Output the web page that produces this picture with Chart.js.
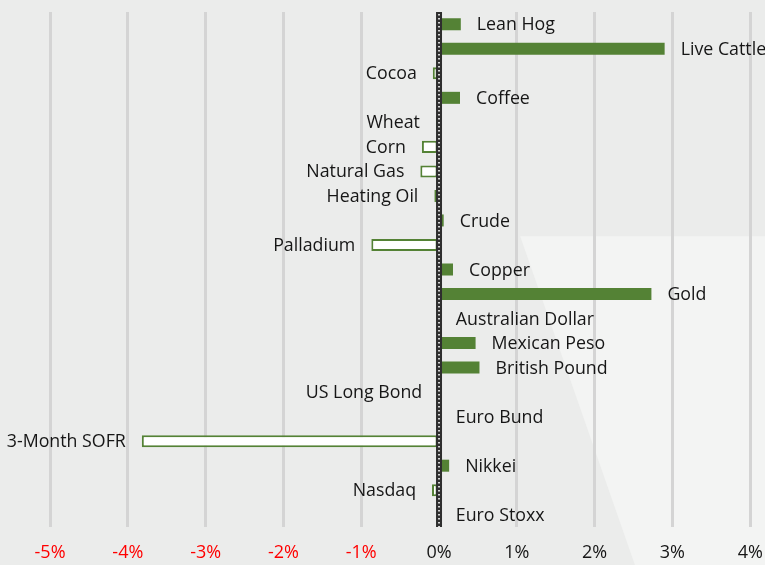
<!DOCTYPE html>
<html>
<head>
<meta charset="utf-8">
<script src="https://cdn.jsdelivr.net/npm/chart.js@4.4.1/dist/chart.umd.min.js"></script>
<style>
  html, body { margin: 0; padding: 0; background: #ebeceb; }
  canvas { display: block; }
</style>
</head>
<body>
<canvas id="chart_view" width="765" height="565"></canvas>
<script>
const categories = [
  'Lean Hog', 'Live Cattle', 'Cocoa', 'Coffee', 'Wheat', 'Corn', 'Natural Gas',
  'Heating Oil', 'Crude', 'Palladium', 'Copper', 'Gold', 'Australian Dollar',
  'Mexican Peso', 'British Pound', 'US Long Bond', 'Euro Bund', '3-Month SOFR',
  'Nikkei', 'Nasdaq', 'Euro Stoxx'
];
const changes = [
  0.28, 2.90, -0.08, 0.27, -0.04, -0.22, -0.24,
  -0.06, 0.06, -0.87, 0.18, 2.73, 0.01,
  0.47, 0.52, -0.01, 0.01, -3.82,
  0.13, -0.09, 0.01
];
const tickValues = [-5, -4, -3, -2, -1, 0, 1, 2, 3, 4];

const green = '#548235';
const fontFamily = 'Open Sans';

// page background with the lighter wedge bottom right
const backdrop = {
  id: 'backdrop',
  beforeDraw(chart) {
    const ctx = chart.ctx, w = chart.width, h = chart.height;
    ctx.save();
    ctx.fillStyle = '#ebeceb';
    ctx.fillRect(0, 0, w, h);
    ctx.fillStyle = '#f3f4f3';
    ctx.beginPath();
    ctx.moveTo(w * 0.68, h * 0.418);
    ctx.lineTo(w, h * 0.418);
    ctx.lineTo(w, h);
    ctx.lineTo(w * 0.83, h);
    ctx.closePath();
    ctx.fill();
    ctx.restore();
  }
};

// dotted black zero line
const zeroLine = {
  id: 'zeroLine',
  afterDatasetsDraw(chart) {
    const ctx = chart.ctx, area = chart.chartArea;
    const x = chart.scales.x.getPixelForValue(0);
    ctx.save();
    ctx.strokeStyle = '#2e2e2e';
    ctx.lineWidth = 6;
    ctx.beginPath();
    ctx.moveTo(x, area.top);
    ctx.lineTo(x, area.bottom);
    ctx.stroke();
    ctx.strokeStyle = '#ffffff';
    ctx.lineWidth = 1.6;
    ctx.setLineDash([1.5, 2.5]);
    ctx.beginPath();
    ctx.moveTo(x, area.top + 2);
    ctx.lineTo(x, area.bottom);
    ctx.stroke();
    ctx.restore();
  }
};

// category names next to the bar ends
const barNames = {
  id: 'barNames',
  afterDatasetsDraw(chart) {
    const ctx = chart.ctx;
    const bars = chart.getDatasetMeta(0).data;
    ctx.save();
    ctx.font = '17.8px "' + fontFamily + '"';
    ctx.fillStyle = '#161616';
    ctx.textBaseline = 'middle';
    bars.forEach((bar, i) => {
      if (changes[i] >= 0) {
        ctx.textAlign = 'left';
        ctx.fillText(categories[i], bar.x + 16, bar.y + 1);
      } else {
        ctx.textAlign = 'right';
        ctx.fillText(categories[i], bar.x - 16, bar.y + 1);
      }
    });
    ctx.restore();
  }
};

const data = {
  labels: categories,
  datasets: [{
    data: changes,
    backgroundColor: changes.map(v => v >= 0 ? green : '#ffffff'),
    borderColor: green,
    borderWidth: changes.map(v => v >= 0 ? 0 : 2),
    borderSkipped: false,
    barPercentage: 0.49,
    categoryPercentage: 1
  }]
};

const config = {
  type: 'bar',
  data: data,
  options: {
    indexAxis: 'y',
    responsive: false,
    animation: false,
    layout: { padding: { top: 12, bottom: 0, left: 0, right: 0 } },
    plugins: {
      legend: { display: false },
      tooltip: { enabled: false }
    },
    scales: {
      x: {
        type: 'linear',
        min: -5.643,
        max: 4.19,
        afterBuildTicks(scale) {
          scale.ticks = tickValues.map(v => ({ value: v }));
        },
        afterFit(scale) {
          scale.height = 38;
          scale.paddingLeft = 0;
          scale.paddingRight = 0;
        },
        grid: { color: '#d4d4d4', lineWidth: 3, drawTicks: false },
        border: { display: false },
        ticks: {
          padding: 15,
          autoSkip: false,
          maxRotation: 0,
          font: { family: fontFamily, size: 18 },
          color: c => c.tick.value < 0 ? '#ff0000' : '#161616',
          callback: v => v + '%'
        }
      },
      y: {
        type: 'category',
        display: false
      }
    }
  },
  plugins: [backdrop, zeroLine, barNames]
};

var myChart = new Chart(document.getElementById('chart_view'), config);
</script>
</body>
</html>
